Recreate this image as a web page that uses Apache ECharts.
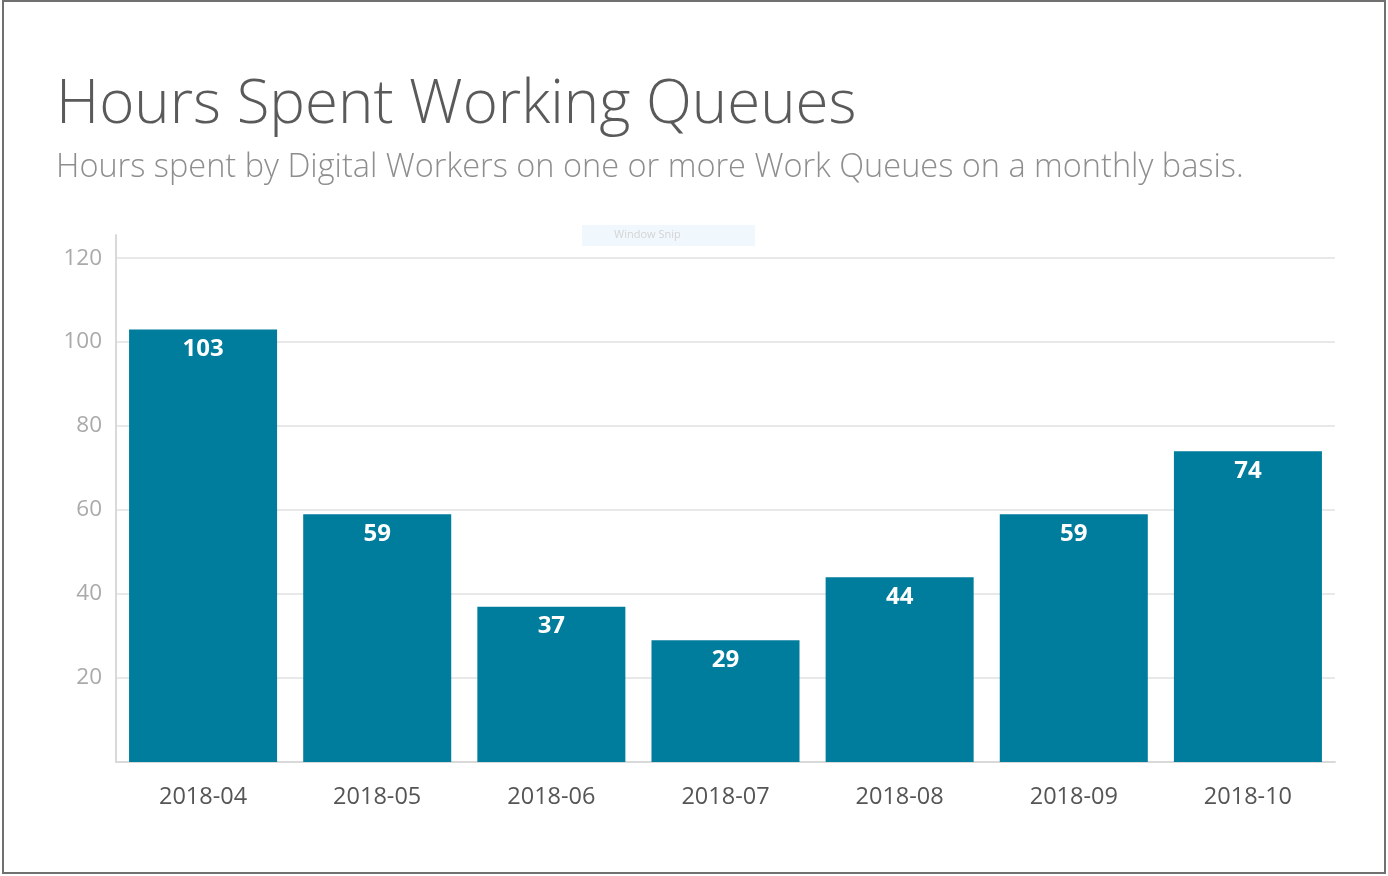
<!DOCTYPE html>
<html>
<head>
<meta charset="utf-8">
<script src="https://cdn.jsdelivr.net/npm/echarts@6/dist/echarts.min.js"></script>
<style>
  html, body { margin: 0; padding: 0; background: #fff; }
  #chart { width: 1388px; height: 876px; }
</style>
</head>
<body>
<div id="chart"></div>
<script>
const titleText = 'Hours Spent Working Queues';
const subtitleText = 'Hours spent by Digital Workers on one or more Work Queues on a monthly basis.';
const categories = ['2018-04', '2018-05', '2018-06', '2018-07', '2018-08', '2018-09', '2018-10'];
const hours = [103, 59, 37, 29, 44, 59, 74];
const yTicks = [0, 20, 40, 60, 80, 100, 120];

const chart = echarts.init(document.getElementById('chart'));
chart.setOption({
  animation: false,
  backgroundColor: '#ffffff',
  title: {
    text: titleText,
    subtext: subtitleText,
    left: 51,
    top: 71,
    itemGap: 15,
    textStyle: { fontFamily: 'Open Sans', fontWeight: 300, fontSize: 60, color: '#5a5a5a' },
    subtextStyle: { fontFamily: 'Open Sans', fontWeight: 300, fontSize: 32.5, color: '#8e8e8e' }
  },
  graphic: [
    { type: 'rect', shape: { x: 3, y: 1, width: 1382, height: 872 }, style: { fill: 'none', stroke: '#707070', lineWidth: 2 }, silent: true },
    { type: 'rect', shape: { x: 582, y: 225, width: 173, height: 21 }, style: { fill: '#f0f7fd' }, silent: true },
    { type: 'text', x: 614, y: 229, style: { text: 'Window Snip', fill: '#d4d4d4', fontSize: 11, fontFamily: 'Open Sans' }, silent: true }
  ],
  grid: { left: 116, right: 53, top: 235, bottom: 114, containLabel: false },
  xAxis: {
    type: 'category',
    data: categories,
    axisLine: { show: true, lineStyle: { color: '#d9d9d9', width: 2 } },
    axisTick: { show: false },
    axisLabel: { fontFamily: 'Open Sans', fontSize: 23.5, color: '#555555', margin: 23 }
  },
  yAxis: {
    type: 'value',
    min: yTicks[0],
    max: 125.5,
    interval: 20,
    axisLine: { show: true, lineStyle: { color: '#d9d9d9', width: 2 } },
    axisTick: { show: false },
    axisLabel: {
      fontFamily: 'Open Sans', fontSize: 22.5, color: '#aaaaaa', margin: 14,
      showMinLabel: false, showMaxLabel: false,
      formatter: v => (yTicks.includes(v) && v !== 0 ? String(v) : ''),
      padding: [6, 0, 0, 0]
    },
    splitLine: { show: true, showMinLine: false, showMaxLine: false, lineStyle: { color: '#e8e8e8', width: 2 } }
  },
  series: [{
    type: 'bar',
    data: hours,
    barCategoryGap: '15%',
    itemStyle: { color: '#007d9c' },
    label: {
      show: true,
      position: 'insideTop',
      distance: 8,
      color: '#ffffff',
      fontFamily: 'Open Sans',
      fontWeight: 'bold',
      fontSize: 24
    }
  }]
});
</script>
</body>
</html>
